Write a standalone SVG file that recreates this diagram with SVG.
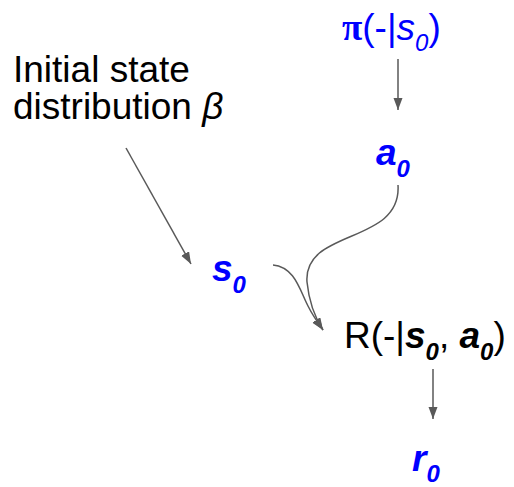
<svg xmlns="http://www.w3.org/2000/svg" width="514" height="487" viewBox="0 0 514 487">
<style>
text{font-family:"Liberation Sans",Arial,sans-serif;fill:#000;font-size:37px}
.b{fill:#0000ff}
.bi{font-weight:bold;font-style:italic}
.it{font-style:italic}
.s{font-size:24px}
.c{fill:none;stroke:#595959;stroke-width:1.5}
</style>
<defs>
<marker id="ah" markerUnits="userSpaceOnUse" markerWidth="12" markerHeight="10" refX="12" refY="4.5" orient="auto">
<path d="M0,0 L12,4.5 L0,9 z" fill="#595959"/>
</marker>
</defs>
<rect width="514" height="487" fill="#fff"/>
<g id="connectors">
<path class="c" d="M398,59 L398,110" marker-end="url(#ah)"/>
<path class="c" d="M126,148 L191,264" marker-end="url(#ah)"/>
<path class="c" d="M398,185 C402,245 303,228 307,282 C309,302 314,316 323,330" marker-end="url(#ah)"/>
<path class="c" d="M273,265 C295,267 300,291 308,306 C313,316 318,323 323,330" marker-end="url(#ah)"/>
<path class="c" d="M433,369 L433,419" marker-end="url(#ah)"/>
</g>
<g id="initial">
<text x="13" y="82" style="font-size:37px">Initial state</text>
<text x="13" y="119" style="font-size:37px">distribution <tspan class="it">β</tspan></text>
</g>
<g id="policy">
<text class="b" x="342" y="40"><tspan style="font-family:'Liberation Serif',serif;font-weight:bold">π</tspan>(-|<tspan class="it">s</tspan><tspan class="it s" dy="11">0</tspan><tspan dy="-11">)</tspan></text>
</g>
<g id="a0">
<text class="b bi" x="376" y="165">a<tspan class="s" dy="12">0</tspan></text>
</g>
<g id="s0">
<text class="b bi" x="212" y="281">s<tspan class="s" dy="12">0</tspan></text>
</g>
<g id="reward">
<text x="344" y="348">R(-|<tspan class="bi">s</tspan><tspan class="bi s" dy="12">0</tspan><tspan dy="-12">, </tspan><tspan class="bi">a</tspan><tspan class="bi s" dy="12">0</tspan><tspan dy="-12">)</tspan></text>
</g>
<g id="r0">
<text class="b bi" x="412" y="471">r<tspan class="s" dy="11">0</tspan></text>
</g>
</svg>
